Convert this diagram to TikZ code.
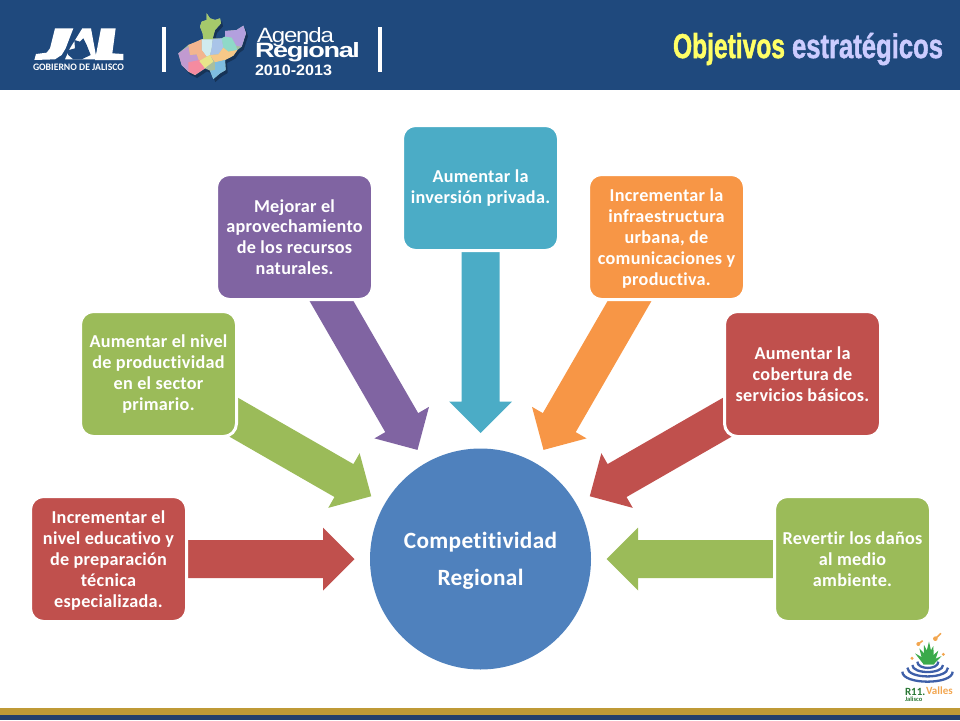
\documentclass[tikz,border=0pt]{standalone}
\usepackage{fontspec}
\usepackage{graphicx}
\usetikzlibrary{calc,backgrounds}
\setmainfont{Carlito}
\newfontfamily\boxfont[LetterSpace=1.5,RawFeature={-liga}]{Carlito}
\newfontfamily\heavy{Liberation Sans}
\newfontfamily\tightfont[LetterSpace=-5]{Liberation Sans}
\newfontfamily\fatfont[FakeBold=1.6]{Liberation Sans}
\definecolor{hdr}{HTML}{1F497D}
\definecolor{cred}{HTML}{C0504D}
\definecolor{cgreen}{HTML}{9BBB59}
\definecolor{cpurple}{HTML}{8064A2}
\definecolor{cteal}{HTML}{4BACC6}
\definecolor{corange}{HTML}{F79646}
\definecolor{cblue}{HTML}{4F81BD}
\definecolor{gold}{HTML}{BF9A36}
\definecolor{navy}{HTML}{243F6B}
\definecolor{ttyellow}{HTML}{FFFF66}
\definecolor{ttlav}{HTML}{CCCCFF}
\definecolor{ringblue}{HTML}{3E5FA8}
\definecolor{agave}{HTML}{3BAA4A}
\definecolor{logoorange}{HTML}{F2A650}
\definecolor{mapa}{HTML}{A5C96B}
\definecolor{mapb}{HTML}{B3A0DE}
\definecolor{mapc}{HTML}{8FD9C8}
\definecolor{mapd}{HTML}{D0EBEE}
\definecolor{mape}{HTML}{A9C4E8}
\definecolor{mapf}{HTML}{F6C888}
\definecolor{mapg}{HTML}{F3B58F}
\definecolor{maph}{HTML}{C19AD0}
\definecolor{mapi}{HTML}{F58BA0}
\definecolor{mapj}{HTML}{E8E58A}
\definecolor{mapk}{HTML}{A8BFA0}
\definecolor{mapl}{HTML}{7FBDE0}
\tikzset{
  goalbox/.style={rectangle,rounded corners=13pt,draw=white,line width=3pt,
    minimum width=156pt,minimum height=125pt,inner sep=0pt,align=center,
    text=white,font=\boxfont\bfseries\fontsize{18.2}{20.8}\selectfont},
  hubnode/.style={circle,fill=cblue,minimum size=221pt,inner sep=0pt,align=center,
    text=white,font=\boxfont\bfseries\fontsize{23.3}{37}\selectfont},
  plain/.style={inner sep=0pt,outer sep=0pt},
  logo/.style={x=0.33333pt,y=-0.33333pt},
  ring/.style={draw=ringblue,line width=2.3pt,fill=none},
  leaf/.style={fill=agave},
  notemark/.style={fill=logoorange},
  notestem/.style={draw=logoorange,line width=1.6pt}
}
\newcommand{\blockarr}[2]{%
  \coordinate (tip) at ($(hub.center)!126pt!(#2.center)$);
  \coordinate (neck) at ($(tip)!31.5pt!(#2.center)$);
  \fill[#1] ($(#2.center)!19pt!90:(neck)$) -- ($(neck)!19pt!-90:(#2.center)$)
    -- ($(neck)!31.5pt!-90:(#2.center)$) -- (tip) -- ($(neck)!31.5pt!90:(#2.center)$)
    -- ($(neck)!19pt!90:(#2.center)$) -- ($(#2.center)!19pt!-90:(neck)$) -- cycle;
}
\newcommand{\mapoutline}{(55,145)--(85,120)--(105,112)--(125,103)--(130,102)--(128,85)--(120,65)--(125,50)--(140,45)--(140,25)--(150,40)--(165,45)--(180,40)--(183,55)--(165,75)--(158,100)--(185,100)--(195,95)--(195,78)--(230,75)--(250,62)--(258,85)--(245,125)--(232,135)--(220,152)--(195,165)--(197,195)--(180,205)--(160,222)--(150,197)--(135,190)--(105,210)--(85,200)--(65,180)--cycle}
\begin{document}
\begin{tikzpicture}[x=1pt,y=-1pt]
\useasboundingbox (0,0) rectangle (960,720);
% header and footer
\fill[hdr] (0,0) rectangle (960,90);
\fill[gold] (0,708) rectangle (960,715);
\fill[navy] (0,715) rectangle (960,720);
% separators
\fill[white] (162,27) rectangle (166,72);
\fill[white] (378,27) rectangle (382,72);
% JAL logo
\begin{scope}[logo,shift={(25pt,-20pt)}]
  \fill[white] (90,25)--(145,25)--(122,85)--(110,105)--(90,118)--(28,120)--(33,102)--(65,98)--(75,85)--cycle;
  \fill[white] (172,25)--(198,25)--(215,118)--(120,118)--(135,85)--cycle;
  \fill[white] (228,25)--(272,25)--(262,100)--(295,102)--(295,120)--(210,120)--cycle;
  \fill[hdr] (125,92)--(150,85)--(148,60)--(165,65)--(175,55)--(185,75)--(197,105)--(170,118)--(145,118)--(130,105)--cycle;
\end{scope}
\node[plain,anchor=base west,text=white] (jalname) at (33,70)
  {\resizebox{91pt}{6.5pt}{\bfseries GOBIERNO DE JALISCO}};
% regional map
\begin{scope}[logo,shift={(160pt,-5pt)}]
  \begin{scope}[shift={(2pt,-3pt)}]
    \fill[hdr!70!black] \mapoutline;
  \end{scope}
  \fill[mapk] \mapoutline;
  \fill[mapa] (140,25)--(150,40)--(165,45)--(180,40)--(183,55)--(165,75)--(158,100)--(158,103)--(125,103)--(130,102)--(128,85)--(120,65)--(125,50)--(140,45)--cycle;
  \fill[mapb] (195,78)--(230,75)--(250,62)--(258,85)--(245,125)--(228,122)--(215,98)--(195,95)--cycle;
  \fill[mapc] (185,100)--(195,95)--(215,98)--(228,122)--(232,135)--(205,140)--(190,128)--cycle;
  \fill[mapd] (125,103)--(158,103)--(155,130)--(150,150)--(140,155)--(125,135)--cycle;
  \fill[mape] (158,103)--(185,100)--(190,128)--(175,148)--(150,150)--(155,130)--cycle;
  \fill[mapf] (232,135)--(220,152)--(195,165)--(165,172)--(150,150)--(175,148)--(190,128)--(205,140)--cycle;
  \fill[maph] (55,145)--(85,125)--(90,150)--(110,148)--(118,170)--(100,172)--(85,200)--(65,180)--cycle;
  \fill[mapg] (85,120)--(105,112)--(125,103)--(125,135)--(140,155)--(118,170)--(110,148)--(90,150)--cycle;
  \fill[mapi] (85,172)--(118,165)--(135,190)--(105,210)--(85,200)--cycle;
  \fill[mapj] (118,168)--(140,155)--(150,150)--(160,170)--(140,185)--(135,190)--cycle;
  \fill[mapl] (165,172)--(195,165)--(197,195)--(180,205)--(160,222)--(150,197)--(165,195)--cycle;
\end{scope}
% Agenda Regional wordmark
\node[plain,anchor=base west,text=white] (agenda) at (257,42) {\resizebox{77pt}{15pt}{\tightfont Agenda}};
\node[plain,anchor=base west,text=white] (regional) at (255,57) {\resizebox{105pt}{15pt}{\tightfont\bfseries Regional}};
\node[plain,anchor=base west,text=white] (years) at (255,75) {\resizebox{77pt}{10.5pt}{\heavy\bfseries 2010-2013}};
% title
\node[plain,anchor=base west,text=ttyellow] (title1) at (673,58) {\resizebox{112pt}{25pt}{\fatfont\bfseries Objetivos}};
\node[plain,anchor=base west,text=ttlav] (title2) at (792,58) {\resizebox{151pt}{25pt}{\fatfont\bfseries estratégicos}};
% hub and goals
\node[hubnode] (hub) at (480.5,559) {\rule{0pt}{20pt}Competitividad\\Regional};
\node[goalbox,fill=cred] (g1) at (108.5,559) {\rule{0pt}{16pt}Incrementar el\\nivel educativo y\\de preparación\\técnica\\especializada.};
\node[goalbox,fill=cgreen] (g2) at (158.5,374) {Aumentar el nivel\\de productividad\\en el sector\\primario.};
\node[goalbox,fill=cpurple] (g3) at (294.5,237) {Mejorar el\\aprovechamiento\\de los recursos\\naturales.};
\node[goalbox,fill=cteal] (g4) at (480.5,188) {Aumentar la\\inversión privada.};
\node[goalbox,fill=corange] (g5) at (666.5,237) {\rule{0pt}{16pt}Incrementar la\\infraestructura\\urbana, de\\comunicaciones y\\productiva.};
\node[goalbox,fill=cred] (g6) at (802.5,374) {Aumentar la\\cobertura de\\servicios básicos.};
\node[goalbox,fill=cgreen] (g7) at (852.5,559) {Revertir los daños\\al medio\\ambiente.};
\begin{pgfonlayer}{background}
  \blockarr{cred}{g1}
  \blockarr{cgreen}{g2}
  \blockarr{cpurple}{g3}
  \blockarr{cteal}{g4}
  \blockarr{corange}{g5}
  \blockarr{cred}{g6}
  \blockarr{cgreen}{g7}
\end{pgfonlayer}
% R11 logo
\begin{scope}[logo,shift={(860pt,-620pt)}]
  \foreach \tx/\ty in {165/100,178/85,192/75,207/65,220/78,235/92,245/108}{
    \fill[leaf] (190,132)--(\tx,\ty)--(222,132)--cycle;
  }
  \draw[ring] (127,155) .. controls (127,195) and (278,195) .. (278,155);
  \draw[ring] (142,143) .. controls (142,178) and (264,178) .. (264,143);
  \draw[ring] (157,135) .. controls (157,163) and (249,163) .. (249,135);
  \draw[ring] (172,125) .. controls (172,150) and (235,150) .. (235,125);
  \fill[notemark] (175,72) circle[radius=6];
  \draw[notestem] (175,72)--(188,62);
  \fill[notemark] (226,56) circle[radius=7];
  \draw[notestem] (226,56)--(243,40);
  \fill[notemark] (156,115) circle[radius=5];
  \fill[notemark] (250,103) circle[radius=5];
\end{scope}
\node[plain,anchor=base west,text=agave!70!black] (r11) at (905,695) {\fontsize{11}{11}\selectfont\bfseries R11.};
\node[plain,anchor=base west,text=logoorange] (valles) at (926,694) {\fontsize{11}{11}\selectfont\bfseries Valles};
\node[plain,anchor=base west,text=agave!70!black] (jalisco) at (905,701) {\fontsize{6.5}{7}\selectfont\bfseries Jalisco};
\end{tikzpicture}
\end{document}
